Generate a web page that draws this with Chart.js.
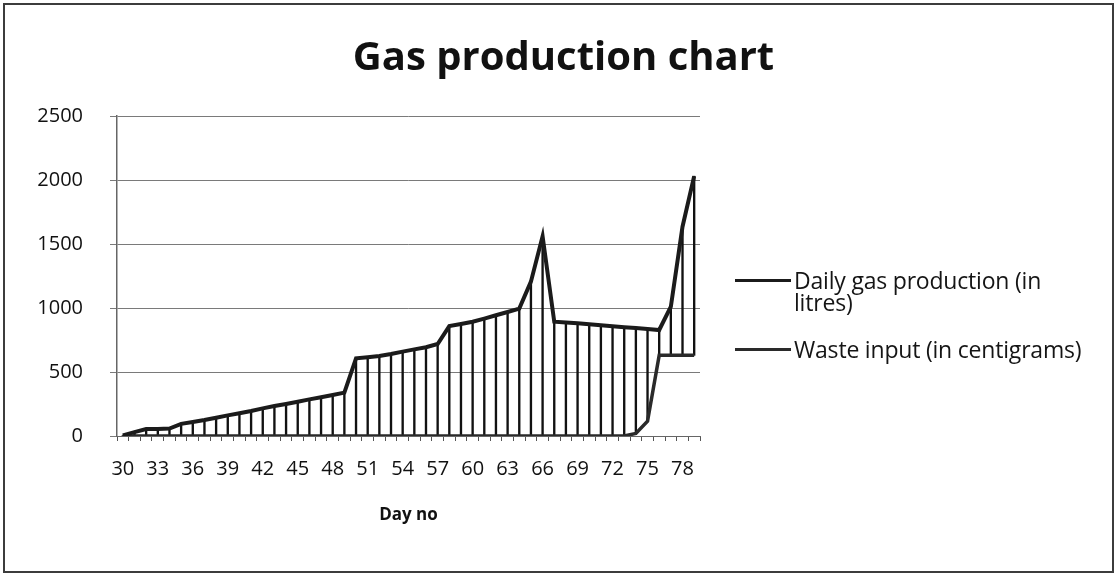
<!DOCTYPE html>
<html>
<head>
<meta charset="utf-8">
<script src="https://cdn.jsdelivr.net/npm/chart.js@4.4.1/dist/chart.umd.min.js"></script>
<style>
  html, body { margin: 0; padding: 0; background: #fff; }
  #wrap { position: relative; width: 1117px; height: 576px; }
  #frame { position: absolute; left: 3px; top: 3px; width: 1111px; height: 570px;
           border: 2px solid #3c3c3c; box-sizing: border-box; pointer-events: none; }
  #chart { position: absolute; left: 0; top: 0; }
  #legend { position: absolute; left: 735px; top: 269px; font-family: 'Open Sans', sans-serif;
            font-size: 23px; color: #151515; line-height: 22px; letter-spacing: -0.2px; }
  .item { display: flex; align-items: flex-start; margin-bottom: 25px; }
  .swatch { width: 56px; height: 3px; margin-top: 10px; margin-right: 3px; flex: none; }
</style>
</head>
<body>
<div id="wrap">
  <canvas id="chart" width="1117" height="576"></canvas>
  <div id="legend"></div>
  <div id="frame"></div>
</div>
<script>
// Day numbers on the category axis
const days = [30, 31, 32, 33, 34, 35, 36, 37, 38, 39,
              40, 41, 42, 43, 44, 45, 46, 47, 48, 49,
              50, 51, 52, 53, 54, 55, 56, 57, 58, 59,
              60, 61, 62, 63, 64, 65, 66, 67, 68, 69,
              70, 71, 72, 73, 74, 75, 76, 77, 78, 79];

// Daily gas production (litres)
const gasProduction = [5, 30, 55, 55, 58, 95, 110, 125, 143, 161,
                       177, 195, 216, 234, 250, 268, 286, 302, 320, 339,
                       607, 615, 625, 640, 659, 677, 693, 719, 859, 875,
                       893, 917, 943, 969, 995, 1206, 1560, 893, 887, 880,
                       873, 866, 858, 850, 843, 836, 828, 1010, 1635, 2030];

// Waste input (centigrams)
const wasteInput = [0, 0, 0, 0, 0, 0, 0, 0, 0, 0,
                    0, 0, 0, 0, 0, 0, 0, 0, 0, 0,
                    0, 0, 0, 0, 0, 0, 0, 0, 0, 0,
                    0, 0, 0, 0, 0, 0, 0, 0, 0, 0,
                    0, 0, 0, 0, 20, 115, 630, 630, 630, 630];

// Value axis ticks
const yTicks = [0, 500, 1000, 1500, 2000, 2500];

const seriesNames = ['Daily gas production (in litres)', 'Waste input (in centigrams)'];
const lineColors = ['#1b1b1b', '#2a2a2a'];

// High-low lines joining the two series at every day
const highLow = days.map((d, i) => [Math.min(gasProduction[i], wasteInput[i]),
                                    Math.max(gasProduction[i], wasteInput[i])]);

const FONT = "'Open Sans', sans-serif";

const chart = new Chart(document.getElementById('chart'), {
  data: {
    labels: days.map(String),
    datasets: [
      { type: 'line', label: seriesNames[0], data: gasProduction,
        borderColor: lineColors[0], borderWidth: 4, pointRadius: 0, tension: 0, order: 0 },
      { type: 'line', label: seriesNames[1], data: wasteInput,
        borderColor: lineColors[1], borderWidth: 3.5, pointRadius: 0, tension: 0, order: 0 },
      { type: 'bar', label: 'high-low', data: highLow,
        backgroundColor: '#111', barThickness: 1.7, order: 1 }
    ]
  },
  options: {
    responsive: false,
    animation: false,
    layout: { padding: { left: 10, right: 0, top: 0, bottom: 47 } },
    plugins: {
      legend: { display: false },
      tooltip: { enabled: false },
      title: {
        display: true,
        text: 'Gas production chart',
        color: '#111',
        font: { family: FONT, size: 40, weight: 'bold', lineHeight: 1.2 },
        padding: { top: 35, bottom: 33 }
      }
    },
    scales: {
      x: {
        type: 'category',
        offset: true,
        grid: { display: true, drawOnChartArea: false, drawTicks: true, tickLength: 5,
                color: '#555', offset: true },
        border: { display: true, color: '#666' },
        ticks: {
          autoSkip: false, maxRotation: 0, minRotation: 0, padding: 16,
          color: '#111', font: { family: FONT, size: 20 },
          callback: function (v, i) { return i % 3 === 0 ? this.getLabelForValue(v) : ''; }
        },
        title: { display: true, text: 'Day no', color: '#111',
                 font: { family: FONT, size: 17, weight: 'bold' }, padding: { top: 4, bottom: 4 } },
        afterFit: s => { s.height = 93; }
      },
      y: {
        min: yTicks[0], max: yTicks[yTicks.length - 1],
        afterBuildTicks: s => { s.ticks = yTicks.map(v => ({ value: v })); },
        grid: { color: '#7a7a7a', lineWidth: 1, tickLength: 7, drawTicks: true },
        border: { display: true, color: '#666', width: 1.5 },
        ticks: { padding: 27, color: '#111', font: { family: FONT, size: 20 },
                 callback: v => String(v) },
        afterFit: s => { s.width = 107; }
      },
      // empty right-hand box that leaves room for the legend
      side: {
        position: 'right', display: true,
        grid: { display: false }, border: { display: false }, ticks: { display: false },
        afterFit: s => { s.width = 417; }
      }
    }
  }
});

// Legend built from the chart's own datasets
const legend = document.getElementById('legend');
chart.data.datasets.filter(ds => ds.type === 'line').forEach((ds, i) => {
  const item = document.createElement('div');
  item.className = 'item';
  const sw = document.createElement('div');
  sw.className = 'swatch';
  sw.style.background = ds.borderColor;
  const tx = document.createElement('div');
  tx.style.width = i === 0 ? '290px' : '360px';
  tx.textContent = ds.label;
  item.appendChild(sw);
  item.appendChild(tx);
  legend.appendChild(item);
});
</script>
</body>
</html>
